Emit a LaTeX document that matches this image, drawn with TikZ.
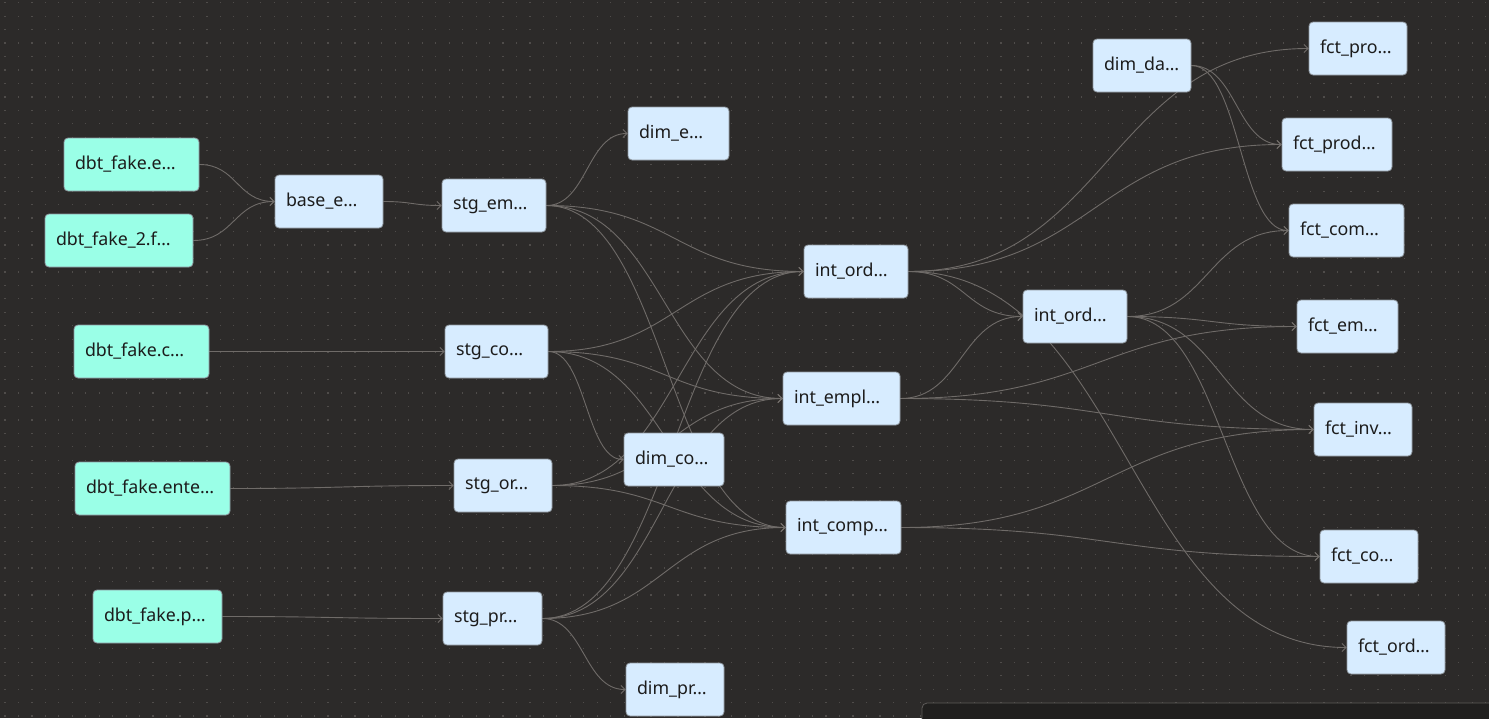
\documentclass[tikz,border=0pt]{standalone}
\usepackage{fontspec}
\setmainfont{Noto Sans}
\usetikzlibrary{arrows.meta,calc}
\definecolor{bgc}{HTML}{2C2A29}
\definecolor{dotc}{HTML}{4F4C4A}
\definecolor{nodeblue}{HTML}{D7ECFF}
\definecolor{srcteal}{HTML}{9AFFE7}
\definecolor{nodeborder}{HTML}{8E969E}
\definecolor{textc}{HTML}{1C1C1C}
\definecolor{edgec}{HTML}{6F6B68}
\definecolor{panelc}{HTML}{201F1E}
\definecolor{panelborder}{HTML}{5E5B59}
\pgfdeclarelayer{bgl}
\pgfdeclarelayer{edgel}
\pgfsetlayers{bgl,edgel,main}
\newcommand{\lnk}[2]{%
  \path let \p1=(#1.east), \p2=(#2.west) in
    coordinate (c1) at (0.5*\x1+0.5*\x2,\y1)
    coordinate (c2) at (0.5*\x1+0.5*\x2,\y2);
  \draw[edge] (#1.east) .. controls (c1) and (c2) .. (#2.west);
}
\begin{document}
\begin{tikzpicture}[x=1pt,y=-1pt,
  box/.style={rounded corners=4pt, fill=nodeblue, draw=nodeborder, line width=0.8pt,
    minimum height=53pt, inner xsep=11pt, inner ysep=0pt, align=left,
    font=\fontsize{17.8}{21}\selectfont, text=textc},
  src/.style={box, fill=srcteal},
  edge/.style={draw=edgec, line width=0.9pt, -{Straight Barb[length=4pt,width=8pt,line width=0.9pt]}}]
\useasboundingbox (0,0) rectangle (1489,718);
\begin{pgfonlayer}{bgl}
  \fill[bgc] (0,0) rectangle (1489,718);
  \foreach \i in {0,...,110} {
    \foreach \j in {0,...,53} {
      \fill[dotc] ({5+13.46*\i-0.6},{2.7+13.46*\j-0.6}) rectangle ++(1.2,1.2);
    }
  }
\end{pgfonlayer}

% sources
\node[src, text width=113pt] (s1) at (131.5,164.5) {dbt\_fake.e…};
\node[src, text width=126pt] (s2) at (119,240.5) {dbt\_fake\_2.f…};
\node[src, text width=113pt] (s3) at (141.5,351.5) {dbt\_fake.c…};
\node[src, text width=133pt] (s4) at (152.5,488.5) {dbt\_fake.ente…};
\node[src, text width=107pt] (s5) at (157.5,616.5) {dbt\_fake.p…};

% models
\node[box, text width=86pt] (base) at (329,201.5) {base\_e…};
\node[box, text width=82pt] (stgem) at (494,205.5) {stg\_em…};
\node[box, text width=79pt] (dime) at (678.5,133.5) {dim\_e…};
\node[box, text width=81pt] (stgco) at (496.5,351.5) {stg\_co…};
\node[box, text width=76pt] (stgor) at (503,485.5) {stg\_or…};
\node[box, text width=77pt] (stgpr) at (492.5,618.5) {stg\_pr…};
\node[box, text width=76pt] (dimpr) at (675,689.5) {dim\_pr…};
\node[box, text width=78pt] (dimco) at (674,459.5) {dim\_co…};
\node[box, text width=82pt] (io1) at (856,271.5) {int\_ord…};
\node[box, text width=95pt] (iemp) at (841.5,398.5) {int\_empl…};
\node[box, text width=93pt] (icomp) at (843.5,527.5) {int\_comp…};
\node[box, text width=82pt] (io2) at (1075,316.5) {int\_ord…};
\node[box, text width=76pt] (dimda) at (1142,65.5) {dim\_da…};
\node[box, text width=76pt] (fpro) at (1358,48.5) {fct\_pro…};
\node[box, text width=88pt] (fprod) at (1337,144.5) {fct\_prod…};
\node[box, text width=93pt] (fcom) at (1346.5,230.5) {fct\_com…};
\node[box, text width=79pt] (fem) at (1347.5,326.5) {fct\_em…};
\node[box, text width=76pt] (finv) at (1363,429.5) {fct\_inv…};
\node[box, text width=76pt] (fco) at (1369,556.5) {fct\_co…};
\node[box, text width=76pt] (ford) at (1396,647.5) {fct\_ord…};

\begin{pgfonlayer}{edgel}
  \lnk{s1}{base}
  \lnk{s2}{base}
  \lnk{base}{stgem}
  \lnk{stgem}{dime}
  \lnk{stgem}{io1}
  \lnk{stgem}{iemp}
  \lnk{stgem}{icomp}
  \lnk{s3}{stgco}
  \lnk{stgco}{io1}
  \lnk{stgco}{iemp}
  \lnk{stgco}{icomp}
  \lnk{stgco}{dimco}
  \lnk{s4}{stgor}
  \lnk{stgor}{io1}
  \lnk{stgor}{iemp}
  \lnk{stgor}{icomp}
  \lnk{s5}{stgpr}
  \lnk{stgpr}{io1}
  \lnk{stgpr}{iemp}
  \lnk{stgpr}{icomp}
  \lnk{stgpr}{dimpr}
  \lnk{io1}{io2}
  \lnk{io1}{fpro}
  \lnk{io1}{fprod}
  \lnk{io1}{ford}
  \lnk{iemp}{io2}
  \lnk{iemp}{fem}
  \lnk{iemp}{finv}
  \lnk{icomp}{finv}
  \lnk{icomp}{fco}
  \lnk{io2}{fcom}
  \lnk{io2}{fem}
  \lnk{io2}{finv}
  \lnk{io2}{fco}
  \lnk{dimda}{fprod}
  \lnk{dimda}{fcom}
\end{pgfonlayer}

\begin{scope}
  \clip (0,0) rectangle (1489,718);
  \draw[fill=panelc, draw=panelborder, line width=0.8pt, rounded corners=5pt] (922,703) rectangle (1530,760);
\end{scope}
\end{tikzpicture}
\end{document}
